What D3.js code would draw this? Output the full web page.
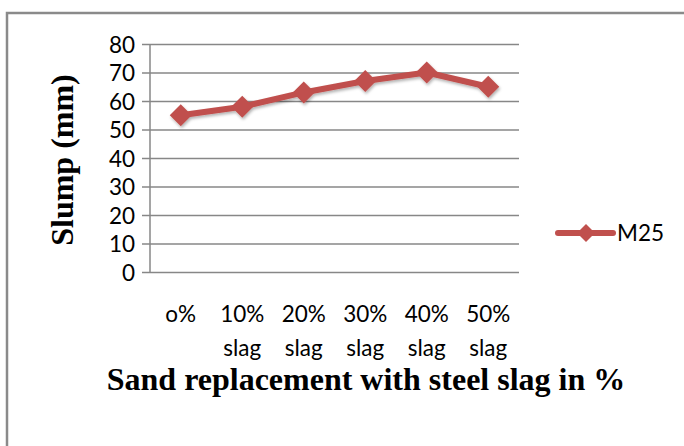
<!DOCTYPE html>
<html><head><meta charset="utf-8">
<script src="https://cdn.jsdelivr.net/npm/d3@7"></script>
<style>body{margin:0;background:#fff}svg{display:block}</style>
</head><body><svg id="c" width="684" height="446"></svg>
<script>
const categories = ["o%", "10%\nslag", "20%\nslag", "30%\nslag", "40%\nslag", "50%\nslag"];
const seriesName = "M25";
const values = [55, 58, 63, 67, 70, 65];
const yTicks = [0, 10, 20, 30, 40, 50, 60, 70, 80];

const svg = d3.select("#c");
svg.append("rect").attr("x", 7).attr("y", 13).attr("width", 700).attr("height", 460)
  .attr("fill", "#fff").attr("stroke", "#8a8a8a").attr("stroke-width", 2.5);

const m = {l: 150, r: 519, t: 44, b: 272};
const x = d3.scaleBand().domain(categories).range([m.l, m.r]).padding(0);
const y = d3.scaleLinear().domain([0, 80]).range([m.b, m.t]);
const font = "Lato, 'Open Sans', sans-serif";
const fs = 22.5;

const ya = svg.append("g").attr("transform", `translate(${m.l},0)`)
  .call(d3.axisLeft(y).tickValues(yTicks).tickSize(-(m.r - m.l)).tickSizeOuter(0).tickPadding(15));
ya.select(".domain").remove();
ya.selectAll(".tick line").attr("stroke", "#878787").attr("stroke-width", 1.5).attr("x1", -8);
ya.selectAll(".tick text").attr("font-family", font).attr("font-size", fs).attr("fill", "#000").attr("dy", "0.36em");
svg.append("line").attr("x1", m.l).attr("x2", m.l).attr("y1", m.t).attr("y2", m.b)
  .attr("stroke", "#878787").attr("stroke-width", 1.5);

const xl = svg.append("g");
categories.forEach(c => {
  const t = xl.append("text").attr("x", x(c) + x.bandwidth() / 2).attr("y", 322)
    .attr("text-anchor", "middle").attr("font-family", font).attr("font-size", fs).attr("fill", "#000");
  c.split("\n").forEach((s, i) => t.append("tspan").attr("x", x(c) + x.bandwidth() / 2).attr("dy", i ? 34 : 0).text(s));
});

const defs = svg.append("defs");
const f = defs.append("filter").attr("id", "sh").attr("x", "-20%").attr("y", "-20%").attr("width", "140%").attr("height", "160%");
f.append("feDropShadow").attr("dx", 1).attr("dy", 2).attr("stdDeviation", 1.5).attr("flood-color", "#000").attr("flood-opacity", 0.3);

const color = "#C0504D";
const cx = c => x(c) + x.bandwidth() / 2;
const g = svg.append("g").attr("filter", "url(#sh)");
g.append("path").datum(values)
  .attr("d", d3.line().x((d, i) => cx(categories[i])).y(d => y(d)))
  .attr("fill", "none").attr("stroke", color).attr("stroke-width", 6).attr("stroke-linejoin", "round");
const diamond = (px, py, r) => `M${px},${py - r}L${px + r},${py}L${px},${py + r}L${px - r},${py}Z`;
g.selectAll("path.pt").data(values).enter().append("path").attr("class", "pt")
  .attr("d", (d, i) => diamond(cx(categories[i]), y(d), 11)).attr("fill", color);

svg.append("line").attr("x1", 558).attr("x2", 613).attr("y1", 233).attr("y2", 233)
  .attr("stroke", color).attr("stroke-width", 6).attr("stroke-linecap", "round");
svg.append("path").attr("d", diamond(586, 233, 9)).attr("fill", color);
svg.append("text").attr("x", 617).attr("y", 241).attr("font-family", font).attr("font-size", fs).attr("fill", "#000").text(seriesName);

const serif = "'Liberation Serif', 'Times New Roman', serif";
svg.append("text").attr("x", 366).attr("y", 390).attr("text-anchor", "middle")
  .attr("font-family", serif).attr("font-weight", "bold").attr("font-size", 32)
  .attr("fill", "#000").text("Sand replacement with steel slag in %");
svg.append("text").attr("transform", "translate(73,160) rotate(-90)").attr("text-anchor", "middle")
  .attr("font-family", serif).attr("font-weight", "bold").attr("font-size", 32)
  .attr("fill", "#000").text("Slump (mm)");
</script></body></html>
